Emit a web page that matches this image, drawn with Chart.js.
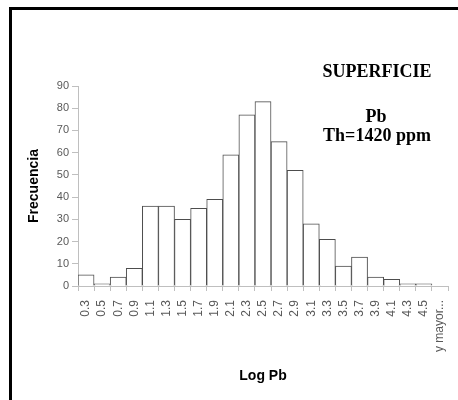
<!DOCTYPE html>
<html>
<head>
<meta charset="utf-8">
<script src="https://cdn.jsdelivr.net/npm/chart.js@4/dist/chart.umd.min.js"></script>
<style>
  html, body { margin: 0; padding: 0; background: #fff; }
  #caja { position: absolute; left: 0; top: 0; width: 458px; height: 400px; }
  #marco { position: absolute; left: 9px; top: 7px; width: 460px; height: 400px;
           border-left: 3px solid #000; border-top: 3px solid #000; }
</style>
</head>
<body>
<div id="caja">
  <div id="marco"></div>
  <canvas id="GraficaPb" width="458" height="400"></canvas>
</div>
<script>
// clases del histograma (Log Pb) y frecuencias
var Clases = ['0.3','0.5','0.7','0.9','1.1','1.3','1.5','1.7','1.9','2.1','2.3','2.5',
              '2.7','2.9','3.1','3.3','3.5','3.7','3.9','4.1','4.3','4.5','y mayor...'];
var Frecuencias = [5, 1, 4, 8, 36, 36, 30, 35, 39, 59, 77, 83,
                   65, 52, 28, 21, 9, 13, 4, 3, 1, 1, 0];
var TicksY = [0, 10, 20, 30, 40, 50, 60, 70, 80, 90];

var Textos = {
    titulo: 'SUPERFICIE',
    elemento: 'Pb',
    umbral: 'Th=1420 ppm'
};

var gris = '#bfbfbf';
var grisTexto = '#595959';

// textos de la esquina superior derecha
var rotulos = {
    id: 'rotulos',
    afterDraw: function (chart) {
        var ctx = chart.ctx;
        ctx.save();
        ctx.fillStyle = '#000';
        ctx.font = 'bold 18px "Liberation Serif", "Times New Roman", serif';
        ctx.textAlign = 'center';
        ctx.textBaseline = 'alphabetic';
        ctx.fillText(Textos.titulo, 377, 77);
        ctx.fillText(Textos.elemento, 376, 122);
        ctx.fillText(Textos.umbral, 377, 141);
        ctx.restore();
    }
};

var ctx = document.getElementById('GraficaPb');
var grafica = new Chart(ctx, {
    type: 'bar',
    data: {
        labels: Clases,
        datasets: [{
            label: 'Frecuencia',
            data: Frecuencias,
            backgroundColor: '#ffffff',
            borderColor: '#4d4d4d',
            borderWidth: 1,
            barPercentage: 1,
            categoryPercentage: 1
        }]
    },
    options: {
        responsive: false,
        animation: false,
        layout: { padding: { left: 22, right: 10, top: 86, bottom: 11 } },
        plugins: {
            legend: { display: false },
            tooltip: { enabled: false }
        },
        scales: {
            x: {
                grid: { offset: true, drawOnChartArea: false, tickLength: 5, color: gris },
                border: { color: gris },
                ticks: {
                    color: grisTexto,
                    font: { family: '"Liberation Sans", Arial, sans-serif', size: 12 },
                    minRotation: 90, maxRotation: 90, autoSkip: false, padding: 9
                },
                title: {
                    display: true, text: 'Log Pb', color: '#000',
                    font: { family: '"Liberation Sans", Arial, sans-serif', size: 14, weight: 'bold' }
                },
                afterFit: function (scale) {
                    scale.height = 103;
                    scale.paddingLeft = 0;
                    scale.paddingRight = 0;
                }
            },
            y: {
                min: 0, max: 90,
                afterBuildTicks: function (scale) {
                    scale.ticks = TicksY.map(function (v) { return { value: v }; });
                },
                grid: { drawOnChartArea: false, tickLength: 6, color: gris },
                border: { color: gris },
                ticks: {
                    color: grisTexto,
                    font: { family: '"Liberation Sans", Arial, sans-serif', size: 11 },
                    padding: 3
                },
                title: {
                    display: true, text: 'Frecuencia', color: '#000',
                    font: { family: '"Liberation Sans", Arial, sans-serif', size: 14, weight: 'bold' }
                },
                afterFit: function (scale) { scale.width = 56; }
            }
        }
    },
    plugins: [rotulos]
});
</script>
</body>
</html>
